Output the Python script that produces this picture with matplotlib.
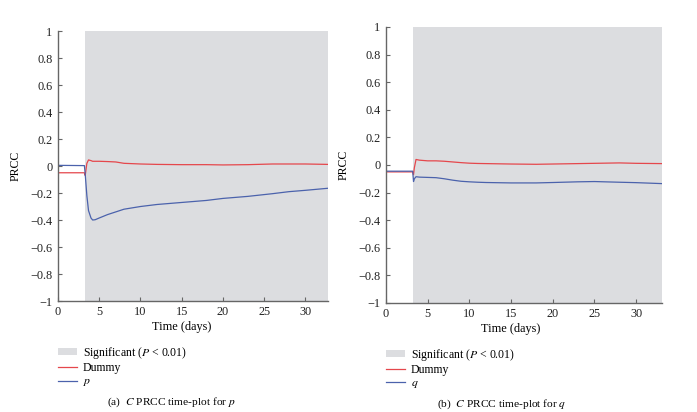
import matplotlib
matplotlib.use("Agg")
import matplotlib.patches as mpatches
import matplotlib.pyplot as plt
from matplotlib.lines import Line2D
import numpy as np

# panel (a): C PRCC for p
days_a = [0, 3.2, 3.3, 3.5, 3.7, 4.0, 4.2, 4.5, 5, 6, 7, 8, 10, 12, 15,
          18, 20, 23, 26, 28, 30, 32.7]
dummy_a = [-0.05, -0.05, -0.07, 0.02, 0.045, 0.04, 0.035, 0.035, 0.035, 0.033,
           0.03, 0.02, 0.015, 0.012, 0.01, 0.01, 0.008, 0.01, 0.015, 0.015,
           0.015, 0.012]
p_a = [0.005, 0.003, -0.06, -0.22, -0.33, -0.385, -0.40, -0.398, -0.385,
       -0.36, -0.34, -0.32, -0.30, -0.285, -0.27, -0.255, -0.24, -0.225,
       -0.205, -0.19, -0.18, -0.165]
sig_a = (3.25, 32.7)
xmax_a = 32.7

# panel (b): C PRCC for q
days_b = [0, 3.2, 3.3, 3.4, 3.6, 4, 5, 6, 7, 8, 9, 10, 11, 12, 15, 18, 20,
          23, 25, 28, 30, 33.1]
dummy_b = [-0.05, -0.05, -0.07, -0.02, 0.04, 0.035, 0.03, 0.03, 0.027, 0.022,
           0.017, 0.013, 0.011, 0.01, 0.007, 0.005, 0.007, 0.01, 0.012, 0.015,
           0.012, 0.01]
q_b = [-0.045, -0.045, -0.12, -0.10, -0.085, -0.088, -0.09, -0.092, -0.10,
       -0.11, -0.118, -0.122, -0.125, -0.127, -0.13, -0.13, -0.127, -0.122,
       -0.12, -0.125, -0.128, -0.135]
sig_b = (3.25, 33.1)
xmax_b = 33.1

COLOR_SIG = "#dcdde0"
COLOR_DUMMY = "#e5474c"
COLOR_PAR = "#4b62ac"
COLOR_AXIS = "#666666"

plt.rcParams["font.family"] = ["Liberation Serif", "DejaVu Serif"]
plt.rcParams["mathtext.fontset"] = "stix"
plt.rcParams["font.size"] = 9

fig = plt.figure(figsize=(6.97, 4.12), dpi=100)
ax_a = fig.add_axes([0.0832, 0.2694, 0.387, 0.6553])
ax_b = fig.add_axes([0.5538, 0.2646, 0.396, 0.6699])

panels = [
    (ax_a, days_a, dummy_a, p_a, sig_a, xmax_a, "p", "(a)", -0.163, -0.374, 0.46),
    (ax_b, days_b, dummy_b, q_b, sig_b, xmax_b, "q", "(b)", -0.158, -0.366, 0.453),
]

yticks = np.round(np.arange(-1, 1.01, 0.2), 1)
ylabels = ["\u22121" if v == -1 else "1" if v == 1 else "0" if v == 0
           else f"{v:.1f}".replace("-", "\u2212") for v in yticks]

for ax, days, dummy, par, sig, xmax, name, tag, leg_y, cap_y, xl in panels:
    ax.axvspan(sig[0], sig[1], color=COLOR_SIG, lw=0, zorder=0)
    ax.plot(days, dummy, color=COLOR_DUMMY, lw=0.9, zorder=2)
    ax.plot(days, par, color=COLOR_PAR, lw=0.9, zorder=2)
    ax.set_xlim(0, xmax)
    ax.set_ylim(-1, 1)
    ax.set_xticks([0, 5, 10, 15, 20, 25, 30])
    ax.set_yticks(yticks)
    ax.set_yticklabels(ylabels)
    ax.set_xlabel("Time (days)", fontsize=8.8, labelpad=2, x=xl)
    ax.set_ylabel("PRCC", fontsize=8.5, labelpad=6)
    for spine in ["top", "right"]:
        ax.spines[spine].set_visible(False)
    for spine in ["left", "bottom"]:
        ax.spines[spine].set_color(COLOR_AXIS)
        ax.spines[spine].set_linewidth(1.0)
    ax.tick_params(direction="in", length=3, width=0.8, colors=COLOR_AXIS,
                   labelcolor="#222222", labelsize=8.8)
    ax.tick_params(axis="y", pad=4)

    handles = [
        mpatches.Patch(facecolor=COLOR_SIG, edgecolor="none"),
        Line2D([], [], color=COLOR_DUMMY, lw=0.9),
        Line2D([], [], color=COLOR_PAR, lw=0.9),
    ]
    labels = ["Significant ($P$ < 0.01)", "Dummy", f"${name}$"]
    ax.legend(handles, labels, loc="upper left", bbox_to_anchor=(0.0, leg_y),
              frameon=False, fontsize=8.5, handlelength=1.6, handleheight=0.5,
              labelspacing=0.1, borderaxespad=0, borderpad=0,
              handletextpad=0.5)
    ax.text(0.42, cap_y, f"{tag}  $C$ PRCC time-plot for ${name}$",
            transform=ax.transAxes, ha="center", va="center", fontsize=8.2)

fig.savefig("out.png", dpi=100)
